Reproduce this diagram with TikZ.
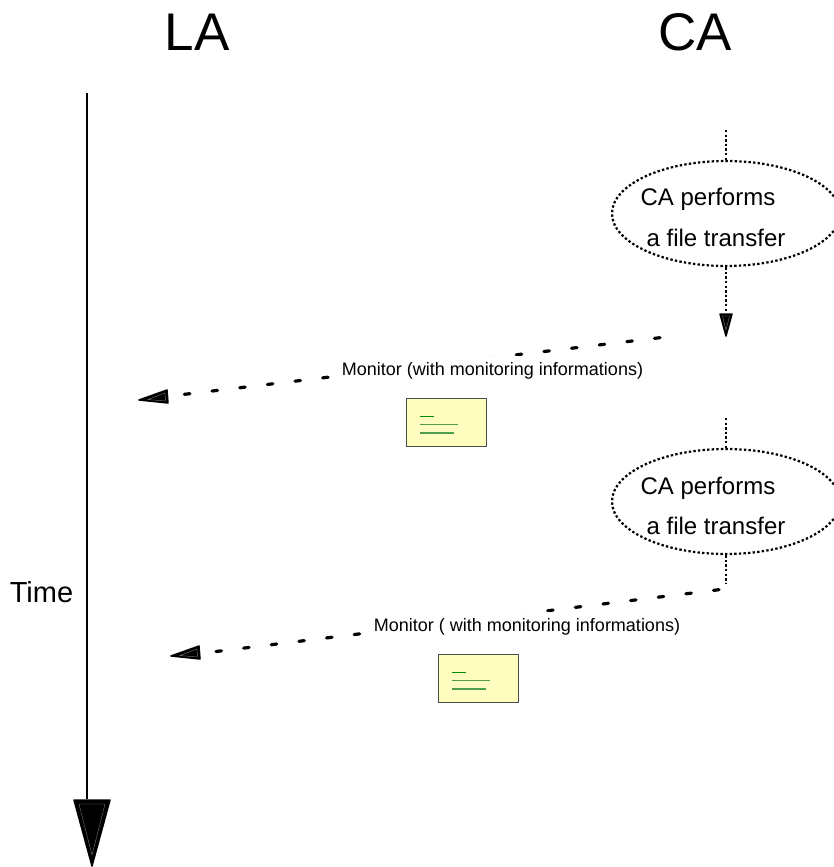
\documentclass[tikz,border=0pt]{standalone}
\usepackage{fontspec}
\setmainfont{Liberation Sans}
\usetikzlibrary{shapes.geometric}
\tikzset{
  x=1bp,y=-1bp,
  title/.style={font=\fontsize{53bp}{53bp}\selectfont,inner sep=0pt},
  bodytext/.style={font=\fontsize{24bp}{24bp}\selectfont,inner sep=0pt},
  timetext/.style={font=\fontsize{29bp}{29bp}\selectfont,inner sep=0pt},
  msgtext/.style={font=\fontsize{18bp}{18bp}\selectfont,fill=white,inner sep=0pt,inner xsep=1bp,text height=19bp,text depth=3bp},
  dotline/.style={line width=2.2bp,dash pattern=on 2.4bp off 2.2bp},
  dashline/.style={line width=3.2bp,line cap=round,dash pattern=on 5.5bp off 22.35bp},
  activity/.style={ellipse,draw,line width=2.2bp,dash pattern=on 2.4bp off 2.2bp,minimum width=228bp,minimum height=105bp,inner sep=0pt},
  headfill/.style={fill=black,draw=black,line width=1.5bp,line join=round},
  headinner/.style={draw=black!55,line width=0.4bp},
  envelope/.style={draw=black!70,line width=1bp,fill=yellow!25!white,minimum width=80bp,minimum height=48bp,inner sep=0pt},
  envline/.style={line width=1.2bp,draw=green!55!black},
  envlinelight/.style={line width=1.4bp,draw=green!45!black!70}
}
\begin{document}
\begin{tikzpicture}
\useasboundingbox (0,0) rectangle (834,867);
\clip (0,0) rectangle (834,867);
\fill[white] (0,0) rectangle (834,867);
% titles
\node[title] (la) at (197,32) {LA};
\node[title] (ca) at (695,32) {CA};
\node[timetext] (time) at (41.5,592) {Time};
% time axis
\coordinate (axtop) at (87,93);
\coordinate (axend) at (87,799);
\draw[line width=2.2bp] (axtop) -- (axend);
\filldraw[headfill] (74,800) -- (110,800) -- (92,866) -- cycle;
\draw[headinner] (79,804) -- (105,804) -- (92,855) -- cycle;
% first activity
\node[activity] (e1) at (726,213.5) {};
\node[bodytext] (t1a) at (708,199) {CA performs};
\node[bodytext] (t1b) at (716,238) {a file transfer};
\coordinate (e1in) at (726,130);
\coordinate (e1out) at (726,312);
\draw[dotline] (e1in) -- (e1.north);
\draw[dotline] (e1.south) -- (e1out);
\filldraw[headfill] (720,314) -- (732,314) -- (726,336) -- cycle;
\draw[headinner] (722.5,316) -- (729.5,316) -- (726,330) -- cycle;
% second activity
\node[activity] (e2) at (726,501.5) {};
\node[bodytext] (t2a) at (708,488) {CA performs};
\node[bodytext] (t2b) at (716,526) {a file transfer};
\coordinate (e2in) at (726,418);
\coordinate (e2out) at (726,584);
\draw[dotline] (e2in) -- (e2.north);
\draw[dotline] (e2.south) -- (e2out);
% first message
\coordinate (m1s) at (660,337.7);
\coordinate (m1e) at (183,394.5);
\draw[dashline] (m1s) -- (m1e);
\node[msgtext] (m1) at (492.5,367) {Monitor (with monitoring informations)};
\filldraw[headfill] (139,400) -- (167,390) -- (168,403) -- cycle;
\draw[headinner] (148,399.5) -- (165,393) -- (165.5,401) -- cycle;
\node[envelope] (env1) at (446.5,422) {};
\draw[envline] (420,416.5) -- (434,416.5);
\draw[envlinelight] (420,424.5) -- (458,424.5);
\draw[envlinelight] (420,433) -- (454,433);
% second message
\coordinate (m2s) at (719,589.7);
\coordinate (m2e) at (216,651.5);
\draw[dashline] (m2s) -- (m2e);
\node[msgtext] (m2) at (527,623.2) {Monitor ( with monitoring informations)};
\filldraw[headfill] (171,656) -- (199,646) -- (200,659) -- cycle;
\draw[headinner] (180,655.5) -- (197,649) -- (197.5,657) -- cycle;
\node[envelope] (env2) at (478.5,678) {};
\draw[envline] (452,672.5) -- (466,672.5);
\draw[envlinelight] (452,680.5) -- (490,680.5);
\draw[envlinelight] (452,689) -- (486,689);
\end{tikzpicture}
\end{document}
